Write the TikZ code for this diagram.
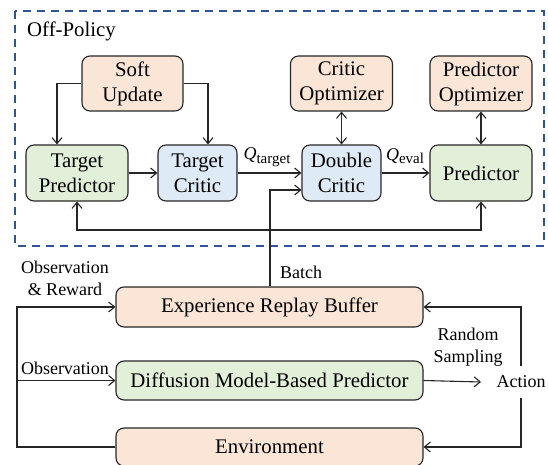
\documentclass[tikz,border=0pt]{standalone}
\usepackage{fontspec}
\setmainfont{Liberation Serif}
\usetikzlibrary{arrows.meta,calc}
\definecolor{orfill}{HTML}{FBE5D6}
\definecolor{grfill}{HTML}{E2F0D9}
\definecolor{blfill}{HTML}{DEEBF7}
\definecolor{dashblue}{HTML}{2F5597}
\begin{document}
\begin{tikzpicture}[x=1pt,y=-1pt,
  box/.style={draw=black!85,line width=1.1pt,rounded corners=8pt,align=center,inner sep=0pt,
    font=\rmfamily\fontsize{20.8}{25}\selectfont},
  obox/.style={box,fill=orfill},
  gbox/.style={box,fill=grfill},
  bbox/.style={box,fill=blfill},
  lbl/.style={inner sep=0pt,align=center,font=\rmfamily\fontsize{18}{22}\selectfont},
  conn/.style={line width=1.1pt,draw=black!85},
  arr/.style={conn,-{Straight Barb[length=6pt,width=10pt]}},
  darr/.style={conn,{Straight Barb[length=6pt,width=10pt]}-{Straight Barb[length=6pt,width=10pt]}}
]
\useasboundingbox (0,0) rectangle (548,465);
\begin{scope}
\clip (0,0) rectangle (548,465);
% dashed frame
\draw[dashblue,line width=1.4pt,dash pattern=on 8pt off 6pt] (15,11) rectangle (544,246);
\node[lbl,anchor=west,font=\rmfamily\fontsize{20.8}{25}\selectfont] (off) at (27,31) {Off-Policy};
% upper nodes
\node[obox,minimum width=101pt,minimum height=55pt] (su) at (132.5,83.5) {Soft\\Update};
\node[gbox,minimum width=102pt,minimum height=56pt] (tp) at (77,173) {Target\\Predictor};
\node[bbox,minimum width=79pt,minimum height=56pt] (tc) at (197.5,173) {Target\\Critic};
\node[bbox,minimum width=79pt,minimum height=56pt] (dc) at (341.5,173) {Double\\Critic};
\node[obox,minimum width=102pt,minimum height=55pt] (co) at (341.5,83.5) {Critic\\Optimizer};
\node[obox,minimum width=102pt,minimum height=55pt] (po) at (481,83.5) {Predictor\\Optimizer};
\node[gbox,minimum width=102pt,minimum height=56pt] (pr) at (481,173) {Predictor};
% lower nodes
\node[obox,minimum width=307pt,minimum height=40pt] (erb) at (269.5,307) {Experience Replay Buffer};
\node[gbox,minimum width=307pt,minimum height=39pt] (dm) at (269.5,380.5) {Diffusion Model-Based Predictor};
\node[obox,minimum width=307pt,minimum height=38pt,text depth=0pt] (env) at (269.5,447) {Environment};
\node[lbl,minimum height=32pt] (act) at (521,382) {Action};
% coordinates
\coordinate (fb) at (270,230);
\coordinate (lft) at (17,307);
\coordinate (actin) at (481,382);
% labels
\node[lbl] (lqt) at (267,157) {\textit{Q}\raisebox{-0.45ex}{\fontsize{15}{18}\selectfont target}};
\node[lbl] (lqe) at (405,156) {\textit{Q}\raisebox{-0.45ex}{\fontsize{15}{18}\selectfont eval}};
\node[lbl] (lba) at (301,272) {Batch};
\node[lbl] (lrs) at (468,347) {Random\\Sampling};
\node[lbl] (lor) at (65,278) {Observation\\\& Reward};
\node[lbl] (lob) at (65,368) {Observation};
% connectors upper
\draw[arr] (su.west) -| ([xshift=-20pt]tp.north);
\draw[arr] (su.east) -| ([xshift=10.5pt]tc.north);
\draw[arr] (tp.east) -- (tc.west);
\draw[arr] (tc.east) -- (dc.west);
\draw[arr] (dc.east) -- (pr.west);
\draw[darr] (co.south) -- (dc.north);
\draw[darr] (po.south) -- (pr.north);
\draw[darr] (tp.south) -- (tp.south |- fb) -- (pr.south |- fb) -- (pr.south);
\draw[arr] (erb.north -| fb) |- ([yshift=-17pt]dc.west);
% connectors lower
\draw[arr] (env.west) -| (lft) -- (erb.west);
\draw[arr] (lft |- dm.west) -- (dm.west);
\draw[arr] (dm.east) -- (actin);
\draw[arr] (act.north) |- (erb.east);
\draw[arr] (act.south) |- (env.east);
\end{scope}
\end{tikzpicture}
\end{document}
